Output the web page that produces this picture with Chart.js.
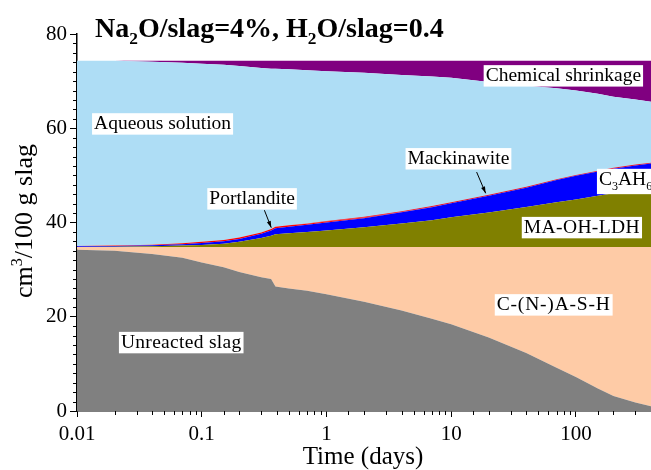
<!DOCTYPE html>
<html>
<head>
<meta charset="utf-8">
<script src="https://cdn.jsdelivr.net/npm/chart.js@4.4.1/dist/chart.umd.min.js"></script>
<style>
  html, body { margin: 0; padding: 0; background: #fff; }
  #wrap { width: 651px; height: 470px; }
</style>
</head>
<body>
<div id="wrap"><canvas id="chart" width="651" height="470"></canvas></div>
<script>
// phase volumes (cm3 / 100 g slag)
const times = [0.01, 0.02, 0.04, 0.07, 0.1, 0.15, 0.2, 0.3, 0.36, 0.39, 0.5, 0.7, 1, 2, 4, 7, 10, 20, 40, 70, 100, 150, 200, 300, 400];
const slag = [34.2, 34.0, 33.3, 32.5, 31.5, 30.5, 29.5, 28.4, 28.0, 26.4, 26.0, 25.5, 24.8, 23.2, 21.3, 19.6, 18.4, 15.6, 12.3, 9.2, 7.2, 4.8, 3.2, 1.8, 1.0];
const cash = [0.6, 0.8, 1.5, 2.3, 3.3, 4.3, 5.3, 6.4, 6.8, 8.4, 8.8, 9.3, 10.0, 11.6, 13.5, 15.2, 16.4, 19.2, 22.5, 25.6, 27.6, 30.0, 31.6, 33.0, 33.8];
const ldh = [0, 0.05, 0.15, 0.3, 0.45, 0.7, 1.1, 1.9, 2.4, 2.7, 2.9, 3.2, 3.5, 4.2, 5.0, 5.7, 6.3, 7.3, 8.5, 9.5, 10.1, 10.9, 11.4, 12.0, 12.4];
const c3ah6 = [0.15, 0.15, 0.2, 0.3, 0.4, 0.5, 0.6, 0.9, 1.1, 1.3, 1.4, 1.5, 1.7, 1.9, 2.35, 2.75, 3.0, 3.6, 4.1, 4.7, 5.0, 5.1, 5.2, 5.3, 5.3];
const portlandite = [0.05, 0.1, 0.15, 0.2, 0.25, 0.3, 0.3, 0.3, 0.3, 0.3, 0.3, 0.25, 0.2, 0.15, 0.1, 0.05, 0, 0, 0, 0, 0, 0, 0, 0, 0];
const mackinawite = [0, 0, 0, 0, 0, 0, 0, 0, 0, 0, 0, 0.05, 0.1, 0.15, 0.15, 0.2, 0.2, 0.2, 0.2, 0.2, 0.2, 0.2, 0.2, 0.2, 0.2];
const aqueous = [39.3, 39.2, 38.8, 38.3, 37.8, 37.2, 36.4, 34.9, 34.0, 33.5, 33.1, 32.5, 31.8, 30.6, 28.9, 27.5, 26.4, 23.9, 21.4, 19.3, 17.9, 16.3, 15.1, 13.8, 12.9];
const shrinkage = [0, 0, 0.2, 0.4, 0.6, 0.8, 1.1, 1.5, 1.7, 1.7, 1.8, 2.0, 2.2, 2.5, 3.0, 3.3, 3.6, 4.5, 5.3, 5.8, 6.3, 7.0, 7.6, 8.2, 8.7];

const xMajor = [0.01, 0.1, 1, 10, 100];
const yMajor = [0, 20, 40, 60, 80];

const SERIF = "'Liberation Serif', 'Times New Roman', serif";

const layers = [
  { label: 'Unreacted slag', data: slag, color: '#808080' },
  { label: 'C-(N-)A-S-H', data: cash, color: '#FECBA6' },
  { label: 'MA-OH-LDH', data: ldh, color: '#808000' },
  { label: 'C3AH6', data: c3ah6, color: '#0000FF' },
  { label: 'Portlandite', data: portlandite, color: '#FF0000' },
  { label: 'Mackinawite', data: mackinawite, color: '#E0102A' },
  { label: 'Aqueous solution', data: aqueous, color: '#AEDDF5' },
  { label: 'Chemical shrinkage', data: shrinkage, color: '#800080' }
];

// text annotations, placed in data coordinates (time, volume)
const notes = [
  { parts: [{ t: 'Chemical shrinkage' }], t: 18.9, v: 70.0 },
  { parts: [{ t: 'Aqueous solution' }], t: 0.0137, v: 59.8 },
  { parts: [{ t: 'Portlandite' }], t: 0.115, v: 43.9 },
  { parts: [{ t: 'Mackinawite' }], t: 4.47, v: 52.4 },
  { parts: [{ t: 'C' }, { t: '3', sub: true }, { t: 'AH' }, { t: '6', sub: true }], t: 153, v: 48.0 },
  { parts: [{ t: 'MA-OH-LDH' }], t: 38.2, v: 37.8, spacing: 0.4 },
  { parts: [{ t: 'C-(N-)A-S-H' }], t: 23.2, v: 21.4, spacing: 0.8 },
  { parts: [{ t: 'Unreacted slag' }], t: 0.0225, v: 13.4, spacing: 0.3 }
];

const arrows = [
  { from: [0.318, 42.6], to: [0.361, 38.9] },
  { from: [16.0, 50.7], to: [18.9, 46.2] }
];

function richWidth(ctx, parts, size, weight) {
  let w = 0;
  parts.forEach(p => {
    const s = p.sub || p.sup ? size * 0.62 : size;
    ctx.font = `${weight} ${s}px ${SERIF}`;
    w += ctx.measureText(p.t).width;
  });
  return w;
}

function drawRich(ctx, parts, x, y, size, weight) {
  parts.forEach(p => {
    const s = p.sub || p.sup ? size * 0.62 : size;
    const dy = p.sub ? size * 0.25 : p.sup ? -size * 0.4 : 0;
    ctx.font = `${weight} ${s}px ${SERIF}`;
    ctx.fillText(p.t, x, y + dy);
    x += ctx.measureText(p.t).width;
  });
}

function drawArrow(ctx, x1, y1, x2, y2) {
  const a = Math.atan2(y2 - y1, x2 - x1);
  ctx.strokeStyle = '#000';
  ctx.fillStyle = '#000';
  ctx.lineWidth = 1;
  ctx.beginPath();
  ctx.moveTo(x1, y1);
  ctx.lineTo(x2, y2);
  ctx.stroke();
  ctx.beginPath();
  ctx.moveTo(x2, y2);
  ctx.lineTo(x2 - 7 * Math.cos(a - 0.3), y2 - 7 * Math.sin(a - 0.3));
  ctx.lineTo(x2 - 7 * Math.cos(a + 0.3), y2 - 7 * Math.sin(a + 0.3));
  ctx.closePath();
  ctx.fill();
}

const isMajorX = v => xMajor.some(m => Math.abs(m - v) < m * 1e-6);

const annotate = {
  id: 'annotate',
  afterDraw(chart) {
    const { ctx, chartArea, scales: { x, y } } = chart;
    ctx.save();

    // short minor tick marks
    ctx.strokeStyle = '#000';
    ctx.lineWidth = 1;
    ctx.beginPath();
    y.ticks.forEach(tk => {
      if (yMajor.includes(tk.value)) return;
      const py = Math.round(y.getPixelForValue(tk.value)) + 0.5;
      ctx.moveTo(chartArea.left - 4, py);
      ctx.lineTo(chartArea.left, py);
    });
    x.ticks.forEach(tk => {
      if (isMajorX(tk.value) || tk.value > 400) return;
      const px = Math.round(x.getPixelForValue(tk.value)) + 0.5;
      ctx.moveTo(px, chartArea.bottom);
      ctx.lineTo(px, chartArea.bottom + 4);
    });
    ctx.stroke();

    ctx.textBaseline = 'alphabetic';
    ctx.textAlign = 'left';

    // labels with white boxes
    const fs = 19.5;
    notes.forEach(n => {
      const px = x.getPixelForValue(n.t);
      const py = y.getPixelForValue(n.v);
      ctx.letterSpacing = (n.spacing || 0) + 'px';
      const w = richWidth(ctx, n.parts, fs, 'normal');
      const hasSub = n.parts.some(p => p.sub);
      ctx.fillStyle = '#fff';
      ctx.fillRect(px - 2, py - fs * 0.82, w + 4, fs * (hasSub ? 1.3 : 1.1));
      ctx.fillStyle = '#000';
      drawRich(ctx, n.parts, px, py, fs, 'normal');
    });
    ctx.letterSpacing = '0px';

    arrows.forEach(a => {
      drawArrow(ctx,
        x.getPixelForValue(a.from[0]), y.getPixelForValue(a.from[1]),
        x.getPixelForValue(a.to[0]), y.getPixelForValue(a.to[1]));
    });

    // title
    ctx.fillStyle = '#000';
    drawRich(ctx, [
      { t: 'Na' }, { t: '2', sub: true }, { t: 'O/slag=4%, H' }, { t: '2', sub: true }, { t: 'O/slag=0.4' }
    ], 95, 37, 28, 'bold');

    // x title
    ctx.font = `25px ${SERIF}`;
    ctx.textAlign = 'center';
    ctx.fillText('Time (days)', 363, 464);

    // y title
    ctx.translate(32, 221);
    ctx.rotate(-Math.PI / 2);
    const yParts = [{ t: 'cm' }, { t: '3', sup: true }, { t: '/100 g slag' }];
    ctx.textAlign = 'left';
    const yw = richWidth(ctx, yParts, 26, 'normal');
    drawRich(ctx, yParts, -yw / 2, 0, 26, 'normal');
    ctx.restore();
  }
};

new Chart(document.getElementById('chart'), {
  type: 'line',
  data: {
    labels: times,
    datasets: layers.map((l, i) => ({
      label: l.label,
      data: times.map((t, k) => ({ x: t, y: l.data[k] })),
      backgroundColor: l.color,
      borderColor: l.color,
      borderWidth: 0,
      pointRadius: 0,
      tension: 0,
      fill: i === 0 ? 'origin' : '-1'
    }))
  },
  options: {
    responsive: false,
    animation: false,
    devicePixelRatio: 1,
    layout: { padding: { top: 34, right: 0, left: 0, bottom: 0 } },
    plugins: { legend: { display: false }, tooltip: { enabled: false } },
    scales: {
      x: {
        type: 'logarithmic',
        min: 0.01,
        max: 400,
        afterFit: s => { s.height = 59; s.paddingRight = 0; s.paddingLeft = 0; },
        border: { color: '#000', width: 1.5 },
        grid: {
          drawOnChartArea: false, drawTicks: true, tickLength: 6,
          tickColor: c => (c.tick && isMajorX(c.tick.value)) ? '#000' : 'rgba(0,0,0,0)'
        },
        ticks: {
          autoSkip: false,
          maxRotation: 0,
          padding: 5,
          color: '#000',
          font: { family: SERIF, size: 21 },
          callback: v => isMajorX(v) ? (v >= 1 ? String(Math.round(v)) : v.toFixed(-Math.round(Math.log10(v)))) : ''
        }
      },
      y: {
        stacked: true,
        min: 0,
        max: 80,
        afterFit: s => { s.width = 77; s.paddingTop = 0; s.paddingBottom = 0; },
        border: { color: '#000', width: 1.5 },
        grid: {
          drawOnChartArea: false, drawTicks: true, tickLength: 7,
          tickColor: c => (c.tick && yMajor.includes(c.tick.value)) ? '#000' : 'rgba(0,0,0,0)'
        },
        ticks: {
          stepSize: 2,
          autoSkip: false,
          padding: 3,
          color: '#000',
          font: { family: SERIF, size: 21 },
          callback: v => yMajor.includes(v) ? String(v) : ''
        }
      }
    }
  },
  plugins: [annotate]
});
</script>
</body>
</html>
